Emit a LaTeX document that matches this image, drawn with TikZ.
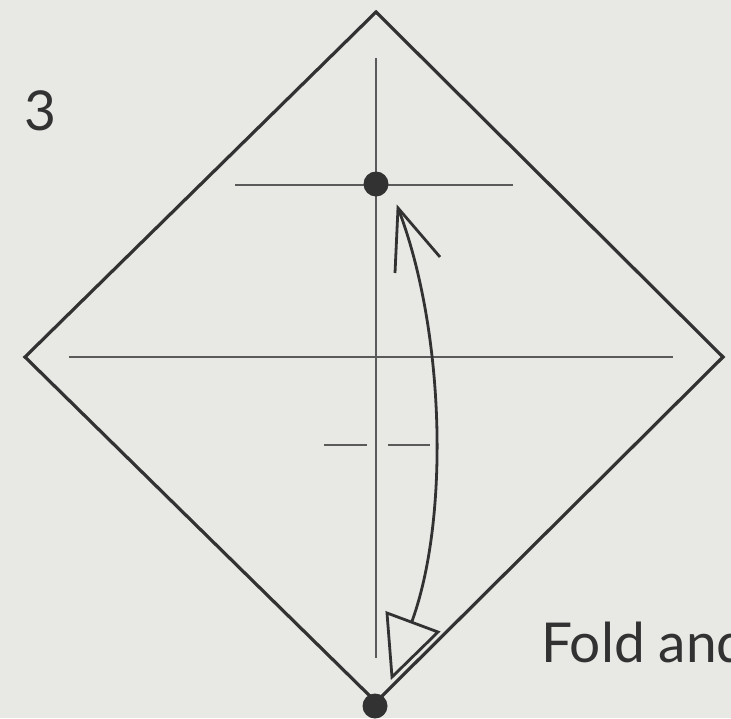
\documentclass[tikz,border=0pt]{standalone}
\usepackage{fontspec}
\setmainfont{Lato}
\definecolor{paper}{RGB}{232,232,229}
\definecolor{ink}{RGB}{50,50,50}
\definecolor{foldc}{RGB}{90,90,90}
\tikzset{
  edge/.style={draw=ink, line width=3.2pt, line join=miter},
  foldline/.style={draw=foldc, line width=2pt},
  arrowline/.style={draw=ink, line width=2.8pt, line join=miter},
  pin/.style={fill=ink},
  label/.style={text=ink, inner sep=0pt, font=\fontsize{55}{60}\selectfont}
}
\begin{document}
\begin{tikzpicture}[x=1pt,y=-1pt]
\useasboundingbox (0,0) rectangle (731,718);
\clip (0,0) rectangle (731,718);
\fill[paper] (0,0) rectangle (731,718);
% corners
\coordinate (T) at (376,12);
\coordinate (L) at (25,357);
\coordinate (R) at (723,357);
\coordinate (B) at (376,702);
% fold lines
\coordinate (hl) at (69,357); \coordinate (hr) at (673,357);
\coordinate (vt) at (376,58); \coordinate (vb) at (376,658);
\coordinate (ul) at (235,185); \coordinate (ur) at (513,185);
\draw[foldline] (hl) -- (hr);
\draw[foldline] (vt) -- (vb);
\draw[foldline] (ul) -- (ur);
\coordinate (d1a) at (324,445); \coordinate (d1b) at (367,445);
\coordinate (d2a) at (388,445); \coordinate (d2b) at (430,445);
\draw[foldline, line width=2.6pt] (d1a) -- (d1b);
\draw[foldline, line width=2.6pt] (d2a) -- (d2b);
% diamond
\draw[edge] (T) -- (R) -- (B) -- (L) -- cycle;
% dots
\fill[pin] (376,184) circle (12.5);
\fill[pin] (375,706) circle (12.5);
% arrow
\coordinate (A0) at (398,208);
\coordinate (A1) at (411,624);
\draw[arrowline] (A0) .. controls (445,330) and (450,520) .. (A1);
\coordinate (bl) at (395,273); \coordinate (br) at (440,257);
\draw[arrowline] (bl) -- (A0) -- (br);
\coordinate (h1) at (387,613); \coordinate (h2) at (438,632); \coordinate (h3) at (392,677);
\filldraw[arrowline, fill=paper] (h1) -- (h2) -- (h3) -- cycle;
% texts
\node[label, anchor=base west] (num) at (24,130) {3};
\node[label, anchor=base west] (txt) at (541,662) {Fold and};
\end{tikzpicture}
\end{document}
